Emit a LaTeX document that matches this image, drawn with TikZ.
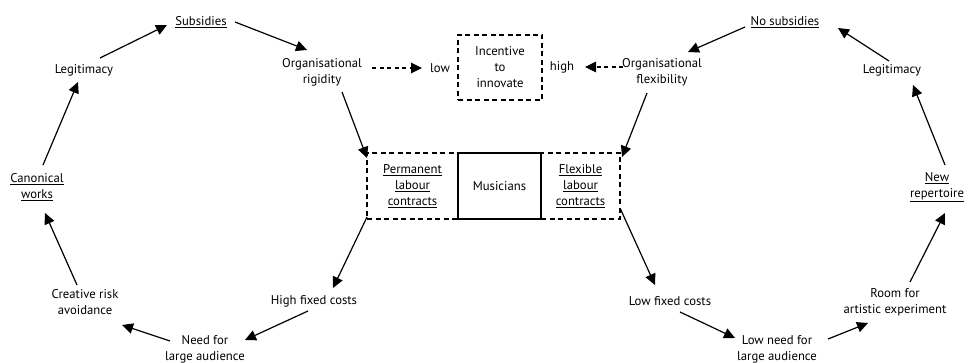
\documentclass[tikz,border=0pt]{standalone}
\usepackage{fontspec}
\setmainfont{PT Sans}
\usetikzlibrary{arrows.meta}
\newcommand\ulx[1]{\underline{#1}}
\begin{document}
\begin{tikzpicture}[x=1pt,y=1pt,
  lbl/.style={align=center,font=\fontsize{12.7}{16}\selectfont,inner sep=0pt},
  arr/.style={line width=1.2pt,-{Triangle[length=11pt,width=10.5pt]}},
  darr/.style={arr,dash pattern=on 4pt off 3.5pt},
  dbox/.style={draw,line width=1.2pt,dash pattern=on 5pt off 3.5pt,inner sep=0pt,font=\fontsize{12.7}{16}\selectfont,align=center},
  sbox/.style={draw,line width=1.2pt,inner sep=0pt,font=\fontsize{12.7}{16}\selectfont,align=center,fill=white}]
\useasboundingbox (0,0) rectangle (973,-363);
% left cycle
\node[lbl] (sub) at (201,-22) {\ulx{Subsidies}};
\node[lbl] (legL) at (84,-70) {Legitimacy};
\node[lbl] (rig) at (322,-72) {Organisational\\rigidity};
\node[lbl] (canon) at (37,-187.5) {\ulx{Canonical}\\\ulx{works}};
\node[lbl] (cra) at (85,-302) {Creative risk\\avoidance};
\node[lbl] (need) at (205,-349.5) {Need for\\large audience};
\node[lbl] (hfc) at (314,-301) {High fixed costs};
% middle
\node[lbl] (low) at (440,-68) {low};
\node[dbox,minimum width=84pt,minimum height=65pt] (inc) at (500,-67.5) {Incentive\\to\\innovate};
\node[lbl] (high) at (562,-67) {high};
\node[dbox,minimum width=91pt,minimum height=66pt] (perm) at (412.5,-186) {\ulx{Permanent}\\\ulx{labour}\\\ulx{contracts}};
\node[dbox,minimum width=79pt,minimum height=66pt] (flexc) at (580.5,-186) {\ulx{Flexible}\\\ulx{labour}\\\ulx{contracts}};
\node[sbox,minimum width=83pt,minimum height=66pt] (mus) at (499.5,-186) {Musicians};
% right cycle
\node[lbl] (flex) at (662,-72) {Organisational\\flexibility};
\node[lbl] (nosub) at (785,-22) {\ulx{No subsidies}};
\node[lbl] (legR) at (892,-70) {Legitimacy};
\node[lbl] (newrep) at (937,-187.5) {\ulx{New}\\\ulx{repertoire}};
\node[lbl] (room) at (895,-302) {Room for\\artistic experiment};
\node[lbl] (lneed) at (777,-349.5) {Low need for\\large audience};
\node[lbl] (lfc) at (670,-301) {Low fixed costs};
% left arrows
\draw[arr] ([shift={(16,12)}]legL.center) -- ([shift={(-34,-3)}]sub.center);
\draw[arr] ([shift={(34,0)}]sub.center) -- ([shift={(-15,22)}]rig.center);
\draw[arr] ([shift={(20,-20)}]rig.center) -- ([shift={(-45.5,28)}]perm.center);
\draw[darr] ([shift={(50,4)}]rig.center) -- ([shift={(-18,0)}]low.center);
\draw[arr] ([shift={(-45.5,-31)}]perm.center) -- ([shift={(19,13)}]hfc.center);
\draw[arr] ([shift={(-6,-10)}]hfc.center) -- ([shift={(40,9.5)}]need.center);
\draw[arr] ([shift={(-35,8.5)}]need.center) -- ([shift={(37,-23)}]cra.center);
\draw[arr] ([shift={(-8,17)}]cra.center) -- ([shift={(8,-25.5)}]canon.center);
\draw[arr] ([shift={(6,22.5)}]canon.center) -- ([shift={(-6,-12)}]legL.center);
% right arrows
\draw[darr] ([shift={(-39,5)}]flex.center) -- ([shift={(23,0)}]high.center);
\draw[arr] ([shift={(-40,-5)}]nosub.center) -- ([shift={(26,20)}]flex.center);
\draw[arr] ([shift={(-3,9)}]legR.center) -- ([shift={(53,-6)}]nosub.center);
\draw[arr] ([shift={(8,22.5)}]newrep.center) -- ([shift={(21,-15)}]legR.center);
\draw[arr] ([shift={(-15,-21)}]flex.center) -- ([shift={(41.5,29)}]flexc.center);
\draw[arr] ([shift={(39.5,-22)}]flexc.center) -- ([shift={(-15,16)}]lfc.center);
\draw[arr] ([shift={(10,-11)}]lfc.center) -- ([shift={(-42,11.5)}]lneed.center);
\draw[arr] ([shift={(51,10.5)}]lneed.center) -- ([shift={(-27,-21)}]room.center);
\draw[arr] ([shift={(15,20)}]room.center) -- ([shift={(8,-25.5)}]newrep.center);
\end{tikzpicture}
\end{document}
